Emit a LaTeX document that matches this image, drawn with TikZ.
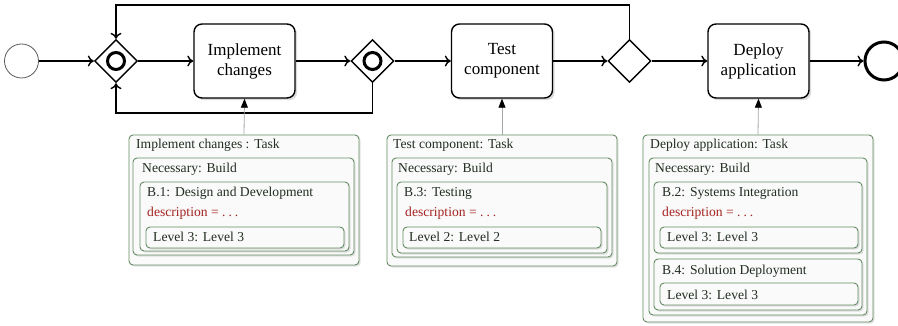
\documentclass[tikz,border=0pt]{standalone}
\usepackage{fontspec}
\setmainfont{Liberation Serif}
\usetikzlibrary{arrows.meta,shapes.geometric,shadows,fit}

\definecolor{annogreen}{RGB}{100,140,100}
\definecolor{annotext}{RGB}{35,45,35}
\definecolor{descred}{RGB}{165,35,35}
\definecolor{boxfill}{RGB}{249,250,249}

\newcommand{\colsp}{\hspace{0.35em}}
\newcommand{\ldotsp}{.\hspace{0.22em}.\hspace{0.22em}.}

\tikzset{
  flow/.style={line width=1.4pt, -{To[length=6pt,width=11pt]}},
  task/.style={draw, line width=1.4pt, rounded corners=8pt, fill=white,
    drop shadow={shadow xshift=2.2pt, shadow yshift=-2.2pt, fill=gray!55},
    minimum width=101pt, minimum height=74pt, align=center,
    font=\fontsize{17}{20}\selectfont},
  gateway/.style={diamond, draw, line width=1.4pt, fill=white, inner sep=0pt,
    minimum width=43pt, minimum height=43pt},
  marker/.style={line width=3pt},
  startev/.style={circle, draw=gray!70!black, line width=0.8pt, minimum size=34pt, inner sep=0pt},
  endev/.style={circle, draw, line width=3pt, minimum size=38pt, inner sep=0pt},
  annobox/.style={draw=annogreen, line width=0.9pt, rounded corners=4pt, fill=boxfill,
    inner sep=0pt,
    drop shadow={shadow xshift=1.6pt, shadow yshift=-1.6pt, fill=gray!45}},
  annolabel/.style={anchor=base west, inner sep=0pt, text=annotext,
    font=\fontsize{13.6}{15}\selectfont},
  desclabel/.style={annolabel, text=descred},
  annoline/.style={draw=gray!70, line width=0.8pt, -{Triangle[length=9pt,width=7pt,color=black]}},
}

\begin{document}
\begin{tikzpicture}[x=1pt, y=-1pt]
\useasboundingbox (0,0) rectangle (898,326);

% ---- process flow ----
\node[startev] (start) at (21.5,61) {};
\node[gateway] (gw1) at (116,61) {};
\draw[marker] (gw1.center) circle (8.5pt);
\node[task] (t1) at (244.5,61) {Implement\\changes};
\node[gateway] (gw2) at (372.5,61) {};
\draw[marker] (gw2.center) circle (8.5pt);
\node[task] (t2) at (502,61) {Test\\component};
\node[gateway] (gw3) at (629.5,61) {};
\node[task] (t3) at (758.5,61) {Deploy\\application};
\node[endev] (end) at (884,61) {};

\draw[flow] (start) -- (gw1);
\draw[flow] (gw1) -- (t1);
\draw[flow] (t1) -- (gw2);
\draw[flow] (gw2) -- (t2);
\draw[flow] (t2) -- (gw3);
\draw[flow] (gw3) -- (t3);
\draw[flow] (t3) -- (end);

% loops back to the first gateway
\coordinate (ytop) at (0,5);
\coordinate (ybot) at (0,113);
\draw[flow] (gw3.north) -- (gw3.north |- ytop) -| (gw1.north);
\draw[flow] (gw2.south) -- (gw2.south |- ybot) -| (gw1.south);

% ---- annotation: Implement changes ----
\node[annobox, fit={(129,135) (359,265)}] (a1) {};
\node[annobox, fit={(133,158) (354,255)}] (a1n) {};
\node[annobox, fit={(140,182) (349,251)}] (a1b) {};
\node[annobox, fit={(146,227) (344,248)}] (a1l) {};
\node[annolabel] (a1t1) at (136,149) {Implement changes :\colsp Task};
\node[annolabel] (a1t2) at (142,173) {Necessary:\colsp Build};
\node[annolabel] (a1t3) at (147,197) {B.1:\colsp Design and Development};
\node[desclabel] (a1t4) at (147,217) {description = \ldotsp};
\node[annolabel] (a1t5) at (153,242) {Level 3:\colsp Level 3};
\draw[annoline] (a1.north) -- (t1.south);

% ---- annotation: Test component ----
\node[annobox, fit={(387,135) (617,266)}] (a2) {};
\node[annobox, fit={(392,158) (612,257)}] (a2n) {};
\node[annobox, fit={(397,182) (607,253)}] (a2b) {};
\node[annobox, fit={(403,227) (601,248)}] (a2l) {};
\node[annolabel] (a2t1) at (393,149) {Test component:\colsp Task};
\node[annolabel] (a2t2) at (398,173) {Necessary:\colsp Build};
\node[annolabel] (a2t3) at (404,197) {B.3:\colsp Testing};
\node[desclabel] (a2t4) at (405,217) {description = \ldotsp};
\node[annolabel] (a2t5) at (409,242) {Level 2:\colsp Level 2};
\draw[annoline] (a2.north) -- (t2.south);

% ---- annotation: Deploy application ----
\node[annobox, fit={(643,135) (873,322)}] (a3) {};
\node[annobox, fit={(649,158) (867,315)}] (a3n) {};
\node[annobox, fit={(654,182) (862,253)}] (a3b) {};
\node[annobox, fit={(660,227) (858,248)}] (a3l) {};
\node[annobox, fit={(654,259) (862,310)}] (a3c) {};
\node[annobox, fit={(660,283) (858,305)}] (a3m) {};
\node[annolabel] (a3t1) at (650,149) {Deploy application:\colsp Task};
\node[annolabel] (a3t2) at (655,173) {Necessary:\colsp Build};
\node[annolabel] (a3t3) at (662,197) {B.2:\colsp Systems Integration};
\node[desclabel] (a3t4) at (662,217) {description = \ldotsp};
\node[annolabel] (a3t5) at (667,242) {Level 3:\colsp Level 3};
\node[annolabel] (a3t6) at (662,275) {B.4:\colsp Solution Deployment};
\node[annolabel] (a3t7) at (667,299) {Level 3:\colsp Level 3};
\draw[annoline] (a3.north) -- (t3.south);
\end{tikzpicture}
\end{document}
